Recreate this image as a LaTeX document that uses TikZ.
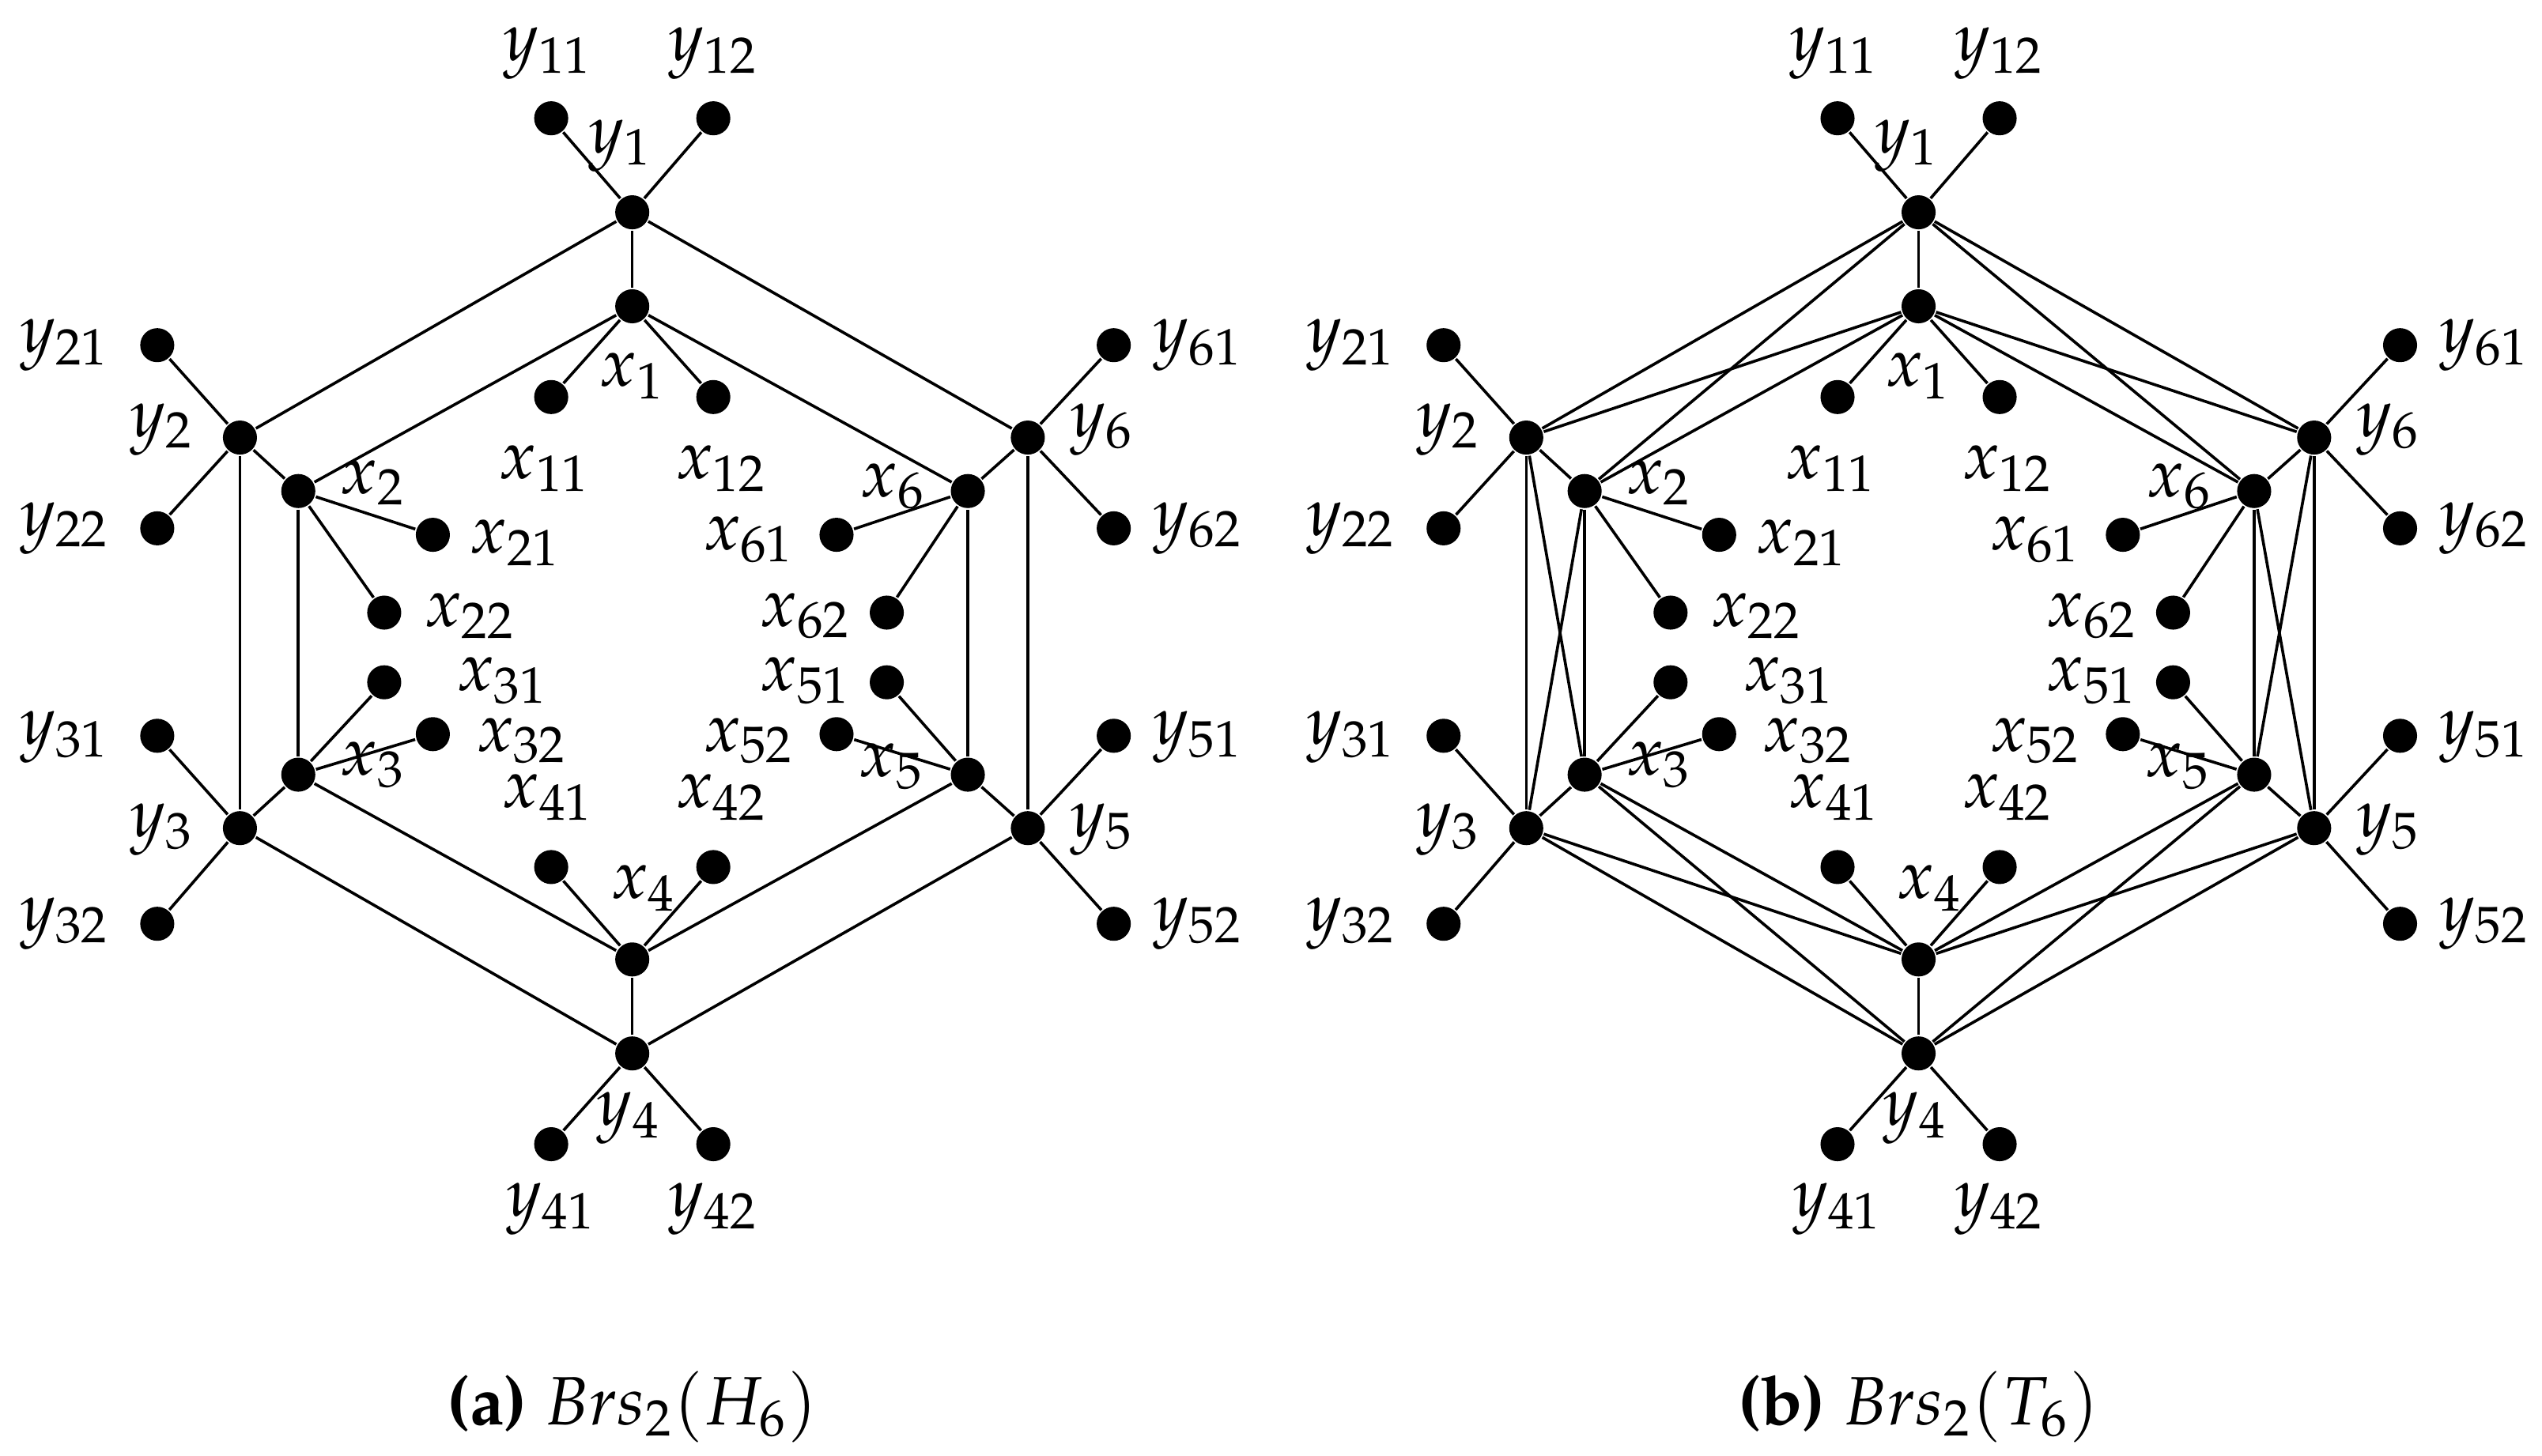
\documentclass[tikz,border=0pt]{standalone}
\usepackage[T1]{fontenc}
\usepackage{mathpazo}
\usetikzlibrary{positioning}

\tikzset{
  vert/.style={circle,fill=black,inner sep=0pt,minimum size=0.21cm},
  lab/.style={inner sep=0pt,font=\large},
}

% one copy of the graph, node names prefixed by #1
\newcommand{\brsnodes}[1]{%
  \foreach \n/\x/\y in {y1/390/131,x1/390/189,y2/148/270,x2/184/303,y3/148/511,x3/184/478,
      y4/390/650,x4/390/592,y5/634/511,x5/597/478,y6/634/270,x6/597/303,
      y11/340/73,y12/440/73,x11/340/245,x12/440/245,y21/97/213,y22/97/326,
      x21/267/330,x22/237/378,x31/237/421,x32/267/453,y31/97/454,y32/97/570,
      x41/340/535,x42/440/535,y41/340/706,y42/440/706,x51/547/421,x52/516/453,
      y51/687/454,y52/687/570,x61/516/330,x62/547/378,y61/687/213,y62/687/326}
    \node[vert] (#1\n) at (\x,\y) {};
  % cycles and spokes
  \foreach \i/\j in {1/2,2/3,3/4,4/5,5/6,6/1} {
    \draw (#1y\i) -- (#1y\j);
    \draw (#1x\i) -- (#1x\j);
  }
  \foreach \i in {1,...,6} {
    \draw (#1y\i) -- (#1x\i);
    \draw (#1y\i) -- (#1y\i1) (#1y\i) -- (#1y\i2);
    \draw (#1x\i) -- (#1x\i1) (#1x\i) -- (#1x\i2);
  }
  % labels
  \foreach \t/\x/\y in {y_{11}/338/33,y_{12}/440/33,y_1/383/90,x_1/390/232,
      x_{11}/336/289,x_{12}/445/289,y_{21}/40/213,y_2/100/265,y_{22}/40/326,
      x_2/230/298,x_{21}/318/335,x_{22}/290/380,x_{31}/310/420,x_{32}/322/457,
      x_3/230/472,y_{31}/40/455,y_3/100/512,y_{32}/40/570,x_{41}/338/492,
      x_{42}/445/492,x_4/397/548,y_4/388/690,y_{41}/340/746,y_{42}/440/746,
      x_5/550/473,x_{51}/497/420,x_{52}/462/457,y_{51}/739/455,y_5/680/512,
      y_{52}/739/570,x_{61}/462/333,x_{62}/497/380,x_6/551/300,y_{61}/739/213,
      y_6/680/265,y_{62}/739/326}
    \node[lab] at (\x,\y) {$\t$};
}

\begin{document}
\begin{tikzpicture}[x=0.01cm,y=-0.01cm,line width=0.5pt]
\useasboundingbox (0,0) rectangle (1568,898);

%% Brs_2(H_6)
\brsnodes{a}
\node[lab] (capa) at (390,868) {\textbf{(a)} $Brs_2(H_6)$};

%% Brs_2(T_6)
\begin{scope}[xshift=7.93cm]
\brsnodes{b}
\foreach \i/\j in {1/2,2/3,3/4,4/5,5/6,6/1} {
  \draw (by\i) -- (bx\j);
  \draw (bx\i) -- (by\j);
}
\node[lab] (capb) at (390,868) {\textbf{(b)} $Brs_2(T_6)$};
\end{scope}

\end{tikzpicture}
\end{document}
